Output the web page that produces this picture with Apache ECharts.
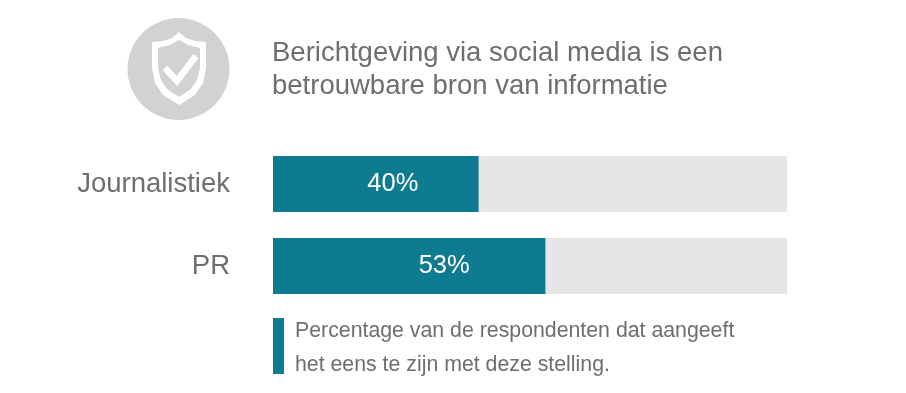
<!DOCTYPE html>
<html>
<head>
<meta charset="utf-8">
<script src="https://cdn.jsdelivr.net/npm/echarts@6/dist/echarts.min.js"></script>
<style>
html, body { margin: 0; padding: 0; background: #fff; }
#chart { width: 906px; height: 393px; }
</style>
</head>
<body>
<div id="chart"></div>
<script>
const categories = ['Journalistiek', 'PR']
const values = [40, 53]
const maxValue = 100
const titleLines = ['Berichtgeving via social media is een', 'betrouwbare bron van informatie']
const noteLines = ['Percentage van de respondenten dat aangeeft', 'het eens te zijn met deze stelling.']

const font = '"Liberation Sans", sans-serif'
const teal = '#0e7b90'
const grey = '#6d6e71'
const iconGrey = '#d1d2d4'
// de labels staan in het origineel niet midden in de balk
const labelShift = [17, 35]

const chart = echarts.init(document.getElementById('chart'), null, { renderer: 'canvas' })

chart.setOption({
  backgroundColor: '#fff',
  animation: false,
  grid: { left: 273, top: 143, width: 514, height: 164 },
  xAxis: { type: 'value', min: 0, max: maxValue, show: false },
  yAxis: {
    type: 'category',
    inverse: true,
    data: categories,
    axisLine: { show: false },
    axisTick: { show: false },
    axisLabel: { color: grey, fontFamily: font, fontSize: 27.5, margin: 43 }
  },
  series: [{
    type: 'bar',
    data: values.map((v, i) => ({ value: v, label: { offset: [labelShift[i], 0] } })),
    barWidth: 56,
    showBackground: true,
    backgroundStyle: { color: '#e6e6e7' },
    itemStyle: { color: teal },
    label: {
      show: true,
      position: 'inside',
      formatter: '{c}%',
      color: '#fff',
      fontFamily: font,
      fontSize: 25.5
    }
  }],
  graphic: [
    { type: 'circle', shape: { cx: 178.5, cy: 69, r: 51 }, style: { fill: iconGrey } },
    // schild
    {
      type: 'polygon',
      shape: { points: [[179, 32], [172, 38], [163, 41], [152, 42], [152, 68], [155, 83], [163, 95], [179, 105], [195, 95], [203, 83], [206, 68], [206, 42], [195, 41], [186, 38]] },
      style: { fill: '#fff' }
    },
    {
      type: 'polygon',
      shape: { points: [[179, 40], [170, 45], [158, 48], [158, 68], [161, 80], [167, 89], [179, 97], [191, 89], [197, 80], [200, 68], [200, 48], [188, 45]] },
      style: { fill: iconGrey }
    },
    {
      type: 'polyline',
      shape: { points: [[165, 68], [177, 81], [196, 56]] },
      style: { stroke: '#fff', lineWidth: 6.5, fill: null }
    },
    { type: 'text', x: 272, y: 37, style: { text: titleLines.join('\n'), font: '27.5px ' + font, fill: grey, lineHeight: 33 } },
    { type: 'rect', shape: { x: 273, y: 318, width: 11, height: 56 }, style: { fill: teal } },
    { type: 'text', x: 295, y: 314, style: { text: noteLines.join('\n'), font: '21.3px ' + font, fill: grey, lineHeight: 34 } }
  ]
})
</script>
</body>
</html>
